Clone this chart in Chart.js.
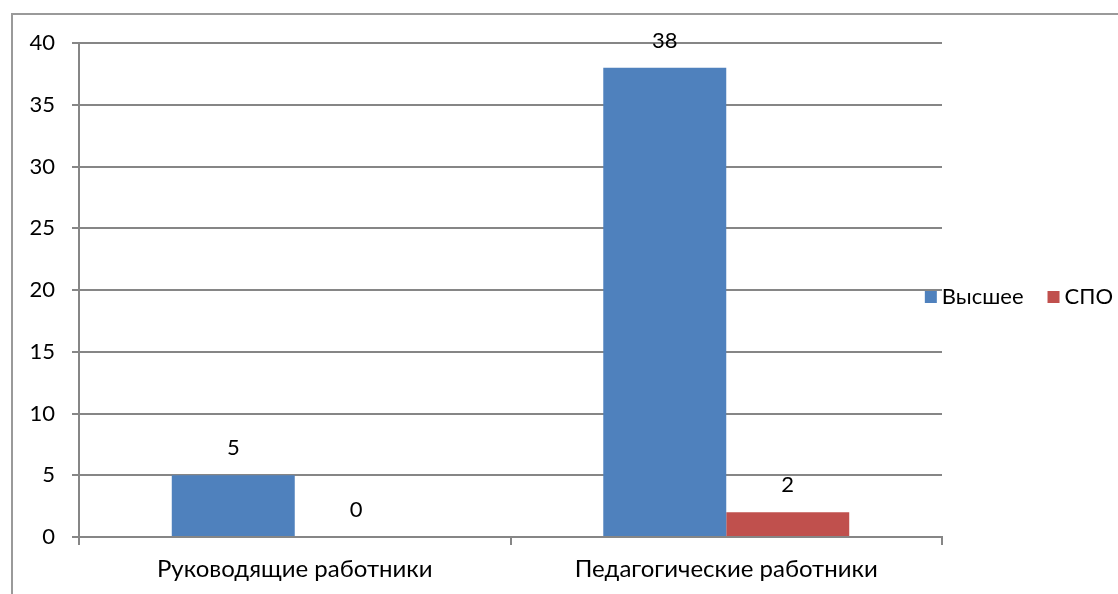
<!DOCTYPE html>
<html lang="ru">
<head>
<meta charset="utf-8">
<title>Образование</title>
<script src="https://cdn.jsdelivr.net/npm/chart.js@4/dist/chart.umd.min.js"></script>
<style>
    html, body { margin: 0; padding: 0; background: #fff; }
    #wrap { position: relative; width: 1118px; height: 594px; overflow: hidden; }
    #frame {
        position: absolute; left: 11px; top: 13px; right: -5px; bottom: -5px;
        border-left: 2px solid #9a9a9a; border-top: 2px solid #9a9a9a;
        pointer-events: none;
    }
    canvas { position: absolute; left: 0; top: 0; }
</style>
</head>
<body>
<div id="wrap">
    <canvas id="eduChart" width="1118" height="594"></canvas>
    <div id="frame"></div>
</div>
<script>
const categories = ['Руководящие работники', 'Педагогические работники'];
const seriesNames = ['Высшее', 'СПО'];
const higherValues = [5, 38];
const spoValues = [0, 2];
const yTicks = [0, 5, 10, 15, 20, 25, 30, 35, 40];

const FONT = 'Lato, "Noto Sans", sans-serif';
const colors = ['#4F81BD', '#C0504D'];

// values above the bars
const valueLabels = {
    id: 'valueLabels',
    afterDatasetsDraw(chart) {
        const ctx = chart.ctx;
        ctx.save();
        ctx.font = '22px ' + FONT;
        ctx.fillStyle = '#000';
        ctx.textAlign = 'center';
        ctx.textBaseline = 'middle';
        chart.data.datasets.forEach((ds, i) => {
            chart.getDatasetMeta(i).data.forEach((bar, j) => {
                ctx.fillText(String(ds.data[j]), bar.x, bar.y - 27);
            });
        });
        ctx.restore();
    }
};

// horizontal legend, right-aligned to the canvas edge
const sideLegend = {
    id: 'sideLegend',
    afterDraw(chart) {
        const ctx = chart.ctx;
        const y = 297;
        const textGap = 17, itemGap = 24;
        ctx.save();
        ctx.font = '22px ' + FONT;
        ctx.textBaseline = 'middle';
        ctx.textAlign = 'left';
        const ds = chart.data.datasets;
        let total = 0;
        ds.forEach((d, i) => {
            total += textGap + ctx.measureText(d.label).width + (i < ds.length - 1 ? itemGap : 0);
        });
        let x = chart.width - 5 - total;
        ds.forEach(d => {
            ctx.fillStyle = d.backgroundColor;
            ctx.fillRect(x, y - 6, 12, 12);
            ctx.fillStyle = '#000';
            ctx.fillText(d.label, x + textGap, y);
            x += textGap + ctx.measureText(d.label).width + itemGap;
        });
        ctx.restore();
    }
};

const ctx = document.getElementById('eduChart').getContext('2d');
const chart = new Chart(ctx, {
    type: 'bar',
    data: {
        labels: categories,
        datasets: [
            { label: seriesNames[0], data: higherValues, backgroundColor: colors[0] },
            { label: seriesNames[1], data: spoValues, backgroundColor: colors[1] }
        ]
    },
    options: {
        responsive: false,
        animation: false,
        devicePixelRatio: 1,
        layout: { padding: { left: 0, top: 43, right: 176, bottom: 0 } },
        datasets: {
            bar: { categoryPercentage: 0.57, barPercentage: 1.0 }
        },
        plugins: {
            legend: { display: false },
            tooltip: { enabled: false },
            title: { display: false }
        },
        scales: {
            x: {
                grid: {
                    offset: true,
                    drawOnChartArea: false,
                    drawTicks: true,
                    tickLength: 8,
                    color: '#868686',
                    lineWidth: 2
                },
                border: { color: '#868686', width: 2 },
                ticks: {
                    color: '#000',
                    font: { family: FONT, size: 24 },
                    padding: 10,
                    maxRotation: 0
                },
                afterFit(scale) { scale.height = 57; }
            },
            y: {
                min: 0,
                max: 40,
                afterBuildTicks(scale) {
                    scale.ticks = yTicks.map(v => ({ value: v }));
                },
                grid: {
                    color: '#868686',
                    lineWidth: 2,
                    tickLength: 7
                },
                border: { color: '#868686', width: 2 },
                ticks: {
                    color: '#000',
                    font: { family: FONT, size: 22 },
                    padding: 17
                },
                afterFit(scale) { scale.width = 79; }
            }
        }
    },
    plugins: [valueLabels, sideLegend]
});
</script>
</body>
</html>
